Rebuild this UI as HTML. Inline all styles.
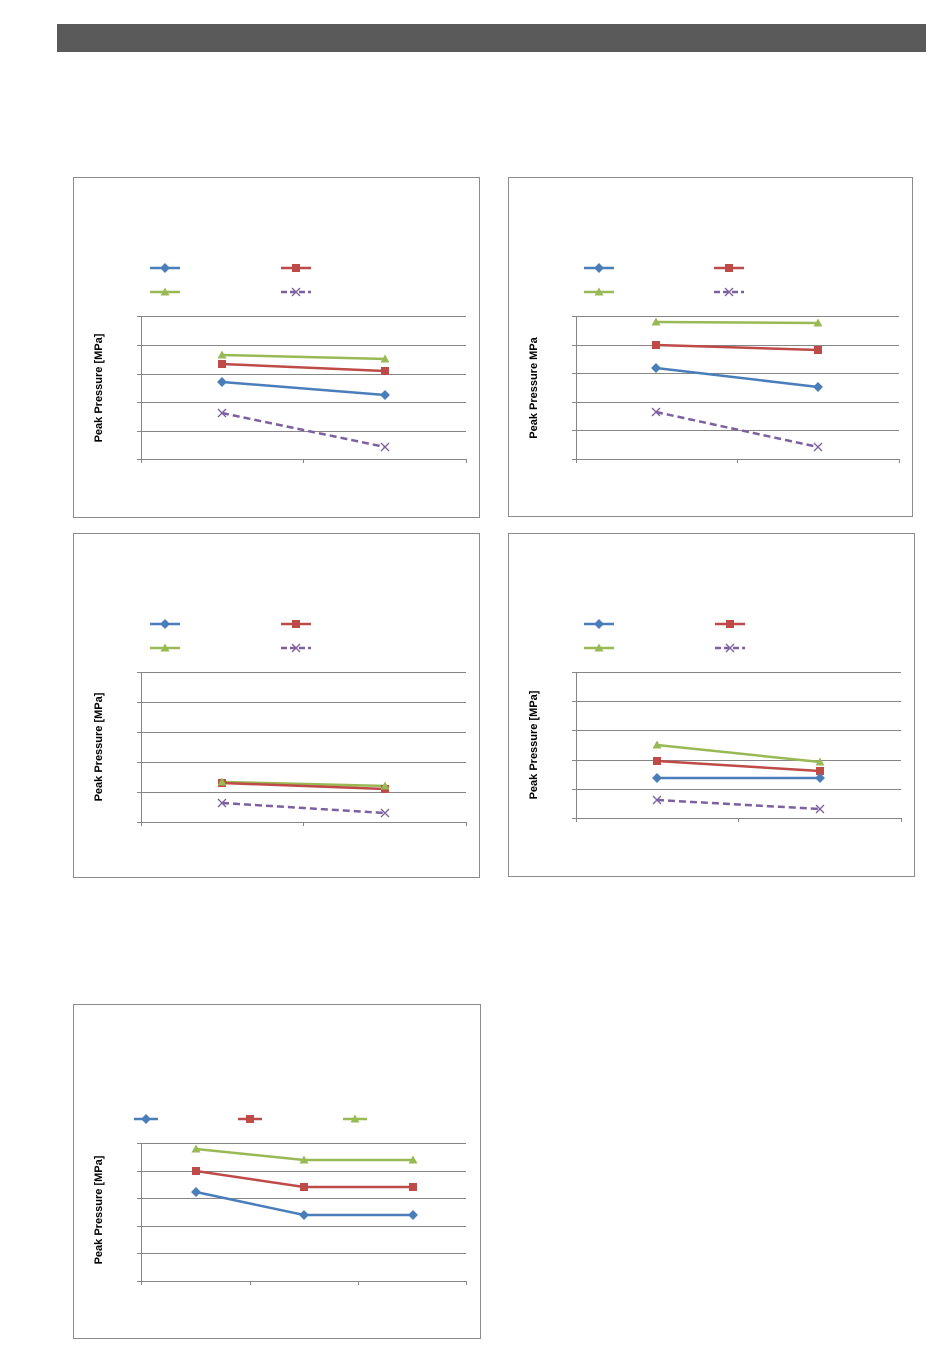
<!DOCTYPE html>
<html><head><meta charset="utf-8"><style>
html,body{margin:0;padding:0;background:#fff;}
svg{display:block;}
text{font-family:"Liberation Sans",sans-serif;font-weight:bold;font-size:11px;fill:#000;}
</style></head><body>
<svg width="950" height="1370" viewBox="0 0 950 1370" xmlns="http://www.w3.org/2000/svg">
<defs>
<g id="dia"><rect x="-3.5" y="-3.5" width="7" height="7" transform="rotate(45)" fill="#4a7ebb"/></g>
<g id="sq"><rect x="-4" y="-4" width="8" height="8" fill="#be4b48"/></g>
<g id="tri"><polygon points="0,-4.5 4.5,3.5 -4.5,3.5" fill="#98b954"/></g>
<g id="xx"><path d="M-4,-4L4,4M-4,4L4,-4" stroke="#7d60a0" stroke-width="1.3"/></g>
</defs>
<rect x="57" y="24" width="869" height="28" fill="#5a5a5a"/>

<g fill="none" stroke="#8c8c8c" stroke-width="1">
<rect x="73.5" y="177.5" width="406" height="340"/>
<rect x="508.5" y="177.5" width="404" height="339"/>
<rect x="73.5" y="533.5" width="406" height="344"/>
<rect x="508.5" y="533.5" width="406" height="343"/>
<rect x="73.5" y="1004.5" width="407" height="334"/>
</g>

<g stroke="#868686" stroke-width="1" fill="none">
<!-- chart1 -->
<path d="M141,316.5H466M141,345.5H466M141,374.5H466M141,402.5H466M141,431.5H466M141,459.5H466M141.5,316V463M303.5,459V463M466.5,459V463M137,316.5H141M137,345.5H141M137,374.5H141M137,402.5H141M137,431.5H141M137,459.5H141"/>
<!-- chart2 -->
<path d="M576,316.5H899M576,345.5H899M576,373.5H899M576,402.5H899M576,430.5H899M576,459.5H899M576.5,316V463M737.5,459V463M899.5,459V463M572,316.5H576M572,345.5H576M572,373.5H576M572,402.5H576M572,430.5H576M572,459.5H576"/>
<!-- chart3 -->
<path d="M141,672.5H466M141,702.5H466M141,732.5H466M141,762.5H466M141,792.5H466M141,822.5H466M141.5,672V826M303.5,822V826M466.5,822V826M137,672.5H141M137,702.5H141M137,732.5H141M137,762.5H141M137,792.5H141M137,822.5H141"/>
<!-- chart4 -->
<path d="M576,672.5H901M576,701.5H901M576,730.5H901M576,760.5H901M576,789.5H901M576,818.5H901M576.5,672V822M738.5,818V822M901.5,818V822M572,672.5H576M572,701.5H576M572,730.5H576M572,760.5H576M572,789.5H576M572,818.5H576"/>
<!-- chart5 -->
<path d="M141,1143.5H466M141,1171.5H466M141,1198.5H466M141,1226.5H466M141,1253.5H466M141,1281.5H466M141.5,1143V1285M250.5,1281V1285M358.5,1281V1285M466.5,1281V1285M137,1143.5H141M137,1171.5H141M137,1198.5H141M137,1226.5H141M137,1253.5H141M137,1281.5H141"/>
</g>

<g stroke-width="2.5" fill="none">
<!-- legends -->
<path d="M150,268H180M584,268H614M150,624H180M584,624H614M134,1119H158" stroke="#4a7ebb"/>
<path d="M281,268H311M714,268H744M281,624H311M715,624H745M238,1119H262" stroke="#be4b48"/>
<path d="M150,292H180M584,292H614M150,648H180M584,648H614M343,1119H367" stroke="#98b954"/>
<path d="M281,292H311M714,292H744M281,648H311M715,648H745" stroke="#7d60a0" stroke-dasharray="6,3"/>
<!-- series -->
<path d="M222,355L385,359M656,322L818,323M222,782L385,786M657,745L820,762M196,1149L304,1160L413,1160" stroke="#98b954"/>
<path d="M222,364L385,371M656,345L818,350M222,783L385,789M657,761L820,771M196,1171L304,1187L413,1187" stroke="#be4b48"/>
<path d="M222,382L385,395M656,368L818,387M657,778L820,778M196,1192L304,1215L413,1215" stroke="#4a7ebb"/>
<path d="M222,413L385,447M656,412L818,447M222,803L385,813M657,800L820,809" stroke="#7d60a0" stroke-dasharray="7,4"/>
</g>

<!-- markers -->
<use href="#dia" x="165" y="268"/><use href="#dia" x="599" y="268"/><use href="#dia" x="165" y="624"/><use href="#dia" x="599" y="624"/><use href="#dia" x="146" y="1119"/>
<use href="#sq" x="296" y="268"/><use href="#sq" x="729" y="268"/><use href="#sq" x="296" y="624"/><use href="#sq" x="730" y="624"/><use href="#sq" x="250" y="1119"/>
<use href="#tri" x="165" y="292"/><use href="#tri" x="599" y="292"/><use href="#tri" x="165" y="648"/><use href="#tri" x="599" y="648"/><use href="#tri" x="355" y="1119"/>
<use href="#xx" x="296" y="292"/><use href="#xx" x="729" y="292"/><use href="#xx" x="296" y="648"/><use href="#xx" x="730" y="648"/>

<use href="#tri" x="222" y="355"/><use href="#tri" x="385" y="359"/>
<use href="#sq" x="222" y="364"/><use href="#sq" x="385" y="371"/>
<use href="#dia" x="222" y="382"/><use href="#dia" x="385" y="395"/>
<use href="#xx" x="222" y="413"/><use href="#xx" x="385" y="447"/>

<use href="#tri" x="656" y="322"/><use href="#tri" x="818" y="323"/>
<use href="#sq" x="656" y="345"/><use href="#sq" x="818" y="350"/>
<use href="#dia" x="656" y="368"/><use href="#dia" x="818" y="387"/>
<use href="#xx" x="656" y="412"/><use href="#xx" x="818" y="447"/>

<use href="#sq" x="222" y="783"/><use href="#sq" x="385" y="789"/>
<use href="#tri" x="222" y="782"/><use href="#tri" x="385" y="786"/>
<use href="#xx" x="222" y="803"/><use href="#xx" x="385" y="813"/>

<use href="#tri" x="657" y="745"/><use href="#tri" x="820" y="762"/>
<use href="#sq" x="657" y="761"/><use href="#sq" x="820" y="771"/>
<use href="#dia" x="657" y="778"/><use href="#dia" x="820" y="778"/>
<use href="#xx" x="657" y="800"/><use href="#xx" x="820" y="809"/>

<use href="#tri" x="196" y="1149"/><use href="#tri" x="304" y="1160"/><use href="#tri" x="413" y="1160"/>
<use href="#sq" x="196" y="1171"/><use href="#sq" x="304" y="1187"/><use href="#sq" x="413" y="1187"/>
<use href="#dia" x="196" y="1192"/><use href="#dia" x="304" y="1215"/><use href="#dia" x="413" y="1215"/>

<!-- y labels -->
<text transform="translate(102,388) rotate(-90)" text-anchor="middle">Peak Pressure [MPa]</text>
<text transform="translate(537,388) rotate(-90)" text-anchor="middle">Peak Pressure MPa</text>
<text transform="translate(102,747) rotate(-90)" text-anchor="middle">Peak Pressure [MPa]</text>
<text transform="translate(537,745) rotate(-90)" text-anchor="middle">Peak Pressure [MPa]</text>
<text transform="translate(102,1210) rotate(-90)" text-anchor="middle">Peak Pressure [MPa]</text>
</svg>
</body></html>
